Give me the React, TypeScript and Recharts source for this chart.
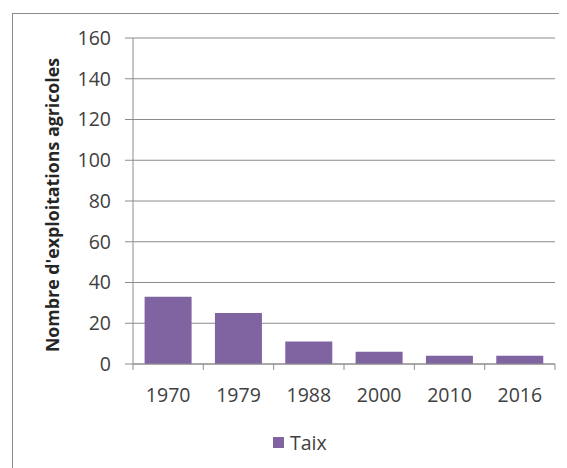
import React from 'react'
import { BarChart, Bar, XAxis, YAxis, CartesianGrid, Legend } from 'recharts'

const years = ['1970', '1979', '1988', '2000', '2010', '2016']
const taix = [33, 25, 11, 6, 4, 4]
const yTicks = [0, 20, 40, 60, 80, 100, 120, 140, 160]

const data = years.map((year, i) => ({ year, Taix: taix[i] }))

const FONT = '"Open Sans", Lato, sans-serif'
const GRID = '#8c8c8c'
const PURPLE = '#8064a2'
const TICK_SIZE = 19.5

// tick label at the band centre, small tick marks at band edges (Excel style)
const YearTick = (props: any) => {
  const { x, y, payload, index, width, visibleTicksCount } = props
  const bw = width && visibleTicksCount ? width / visibleTicksCount : 70
  const last = index === visibleTicksCount - 1
  return (
    <g>
      <line x1={x - bw / 2} x2={x - bw / 2} y1={y} y2={y + 6} stroke={GRID} />
      {last && <line x1={x + bw / 2} x2={x + bw / 2} y1={y} y2={y + 6} stroke={GRID} />}
      <text x={x} y={y + 38} textAnchor="middle" fill="#404040" fontSize={TICK_SIZE} fontFamily={FONT}>
        {payload.value}
      </text>
    </g>
  )
}

const LegendBox = () => (
  <div style={{ display: 'flex', alignItems: 'center', fontFamily: FONT, fontSize: TICK_SIZE, color: '#404040' }}>
    <span style={{ width: 11, height: 11, background: PURPLE, display: 'inline-block', marginRight: 6 }} />
    <span>Taix</span>
  </div>
)

export default function App() {
  return (
    <div style={{ position: 'relative', width: 559, height: 460, overflow: 'hidden', background: '#fff' }}>
      <div
        style={{
          position: 'absolute',
          left: 4,
          top: 5,
          width: 620,
          height: 520,
          border: '1px solid #8c8c8c',
          boxSizing: 'border-box',
        }}
      />
      <div style={{ position: 'absolute', left: 0, top: 0 }}>
        <BarChart
          width={559}
          height={460}
          data={data}
          margin={{ top: 30, right: 12, left: 0, bottom: 74 }}
          barCategoryGap="16.5%"
        >
          <CartesianGrid horizontal vertical={false} stroke={GRID} />
          <XAxis
            dataKey="year"
            height={30}
            axisLine={{ stroke: GRID }}
            tickLine={false}
            tickSize={0}
            tickMargin={0}
            interval={0}
            tick={<YearTick />}
          />
          <YAxis
            width={125}
            domain={[0, 160]}
            ticks={yTicks}
            interval={0}
            axisLine={{ stroke: GRID }}
            tickLine={{ stroke: GRID }}
            tickSize={8}
            tickMargin={14}
            tick={{ fill: '#404040', fontSize: TICK_SIZE, fontFamily: FONT }}
            label={{
              value: "Nombre d'exploitations agricoles",
              angle: -90,
              position: 'insideLeft',
              offset: 45,
              dy: 4,
              style: { textAnchor: 'middle', fontWeight: 700, fontSize: 17.8, fontFamily: FONT, fill: '#262626' },
            }}
          />
          <Legend
            layout="horizontal"
            verticalAlign="middle"
            align="center"
            content={<LegendBox />}
            wrapperStyle={{ top: 421, left: 265, width: 'auto' }}
          />
          <Bar dataKey="Taix" fill={PURPLE} isAnimationActive={false} />
        </BarChart>
      </div>
    </div>
  )
}
